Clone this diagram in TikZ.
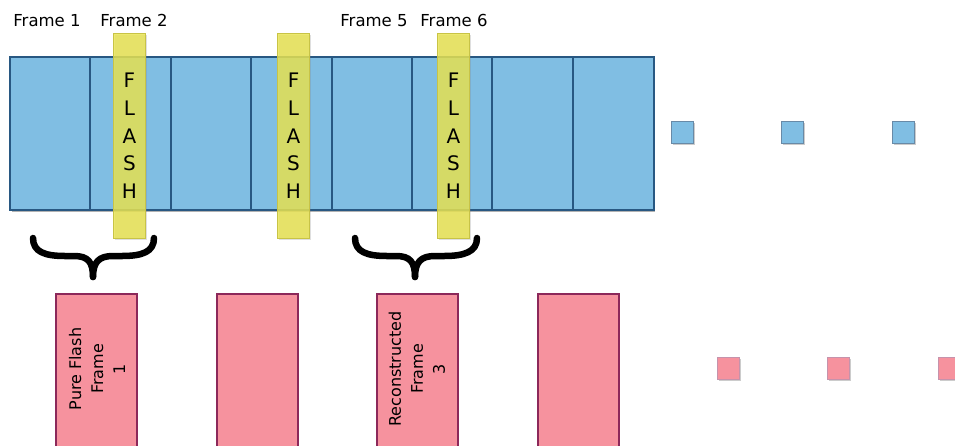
\documentclass[tikz,border=0pt]{standalone}
\usepackage{fontspec}
\setmainfont{DejaVu Sans}
\usetikzlibrary{shadows}
\definecolor{bluefill}{RGB}{128,190,227}
\definecolor{blueline}{RGB}{40,88,130}
\definecolor{pinkfill}{RGB}{246,146,158}
\definecolor{pinkline}{RGB}{140,40,90}
\definecolor{yelfill}{RGB}{232,228,80}
\definecolor{yelline}{RGB}{200,195,70}
\tikzset{
  cell/.style={fill=bluefill, minimum width=80.4pt, minimum height=153pt, inner sep=0pt, anchor=north west},
  divider/.style={draw=blueline, line width=2pt},
  flashbar/.style={draw=yelline, line width=1pt, fill=yelfill, fill opacity=0.82, text opacity=1, minimum width=32pt, minimum height=205pt, inner sep=0pt, anchor=north west, align=center, font=\fontsize{20}{27.7}\selectfont, drop shadow={opacity=0.25, shadow xshift=1pt, shadow yshift=-1pt}},
  outbox/.style={draw=pinkline, line width=1.5pt, fill=pinkfill, minimum width=81pt, minimum height=153pt, inner sep=0pt, anchor=north west, drop shadow={opacity=0.3, shadow xshift=1.5pt, shadow yshift=-1.5pt}},
  boxtext/.style={rotate=90, align=center, font=\fontsize{16}{22}\selectfont, inner sep=0pt},
  flabel/.style={font=\fontsize{16.5}{19}\selectfont, anchor=base, inner sep=0pt},
  bsq/.style={draw=blueline!70, line width=0.6pt, fill=bluefill, minimum size=22pt, inner sep=0pt, anchor=north west, drop shadow={opacity=0.4, shadow xshift=1.5pt, shadow yshift=-1.5pt}},
  psq/.style={draw=pinkline!50, line width=0.6pt, fill=pinkfill, minimum size=22pt, inner sep=0pt, anchor=north west, drop shadow={opacity=0.4, shadow xshift=1.5pt, shadow yshift=-1.5pt}},
  bracepath/.style={line width=6.5pt, line cap=round, line join=round}
}
\begin{document}
\begin{tikzpicture}[x=1pt, y=-1pt]
\useasboundingbox (0,0) rectangle (955,445);
% blue strip shadow
\fill[black, opacity=0.3] (12,59) rectangle (655,212);
% blue strip
\foreach \i in {0,...,7} {
  \node[cell] (c\i) at ({10+80.4*\i},57) {};
}
\foreach \i in {1,...,7} {
  \draw[divider] (c\i.north west) -- (c\i.south west);
}
\draw[divider] (c0.north west) rectangle (c7.south east);
% flash bars
\node[flashbar] (f1) at (113,33) {F\\L\\A\\S\\H};
\node[flashbar] (f2) at (277,33) {F\\L\\A\\S\\H};
\node[flashbar] (f3) at (437,33) {F\\L\\A\\S\\H};
% frame labels
\node[flabel] (l1) at (47,26) {Frame 1};
\node[flabel] (l2) at (134,26) {Frame 2};
\node[flabel] (l5) at (374,26) {Frame 5};
\node[flabel] (l6) at (454,26) {Frame 6};
% braces
\draw[bracepath] (33,238) .. controls (33,252) and (45,256) .. (65,256) -- (74,256) .. controls (88,256) and (93,262) .. (93,277);
\draw[bracepath] (93,277) .. controls (93,262) and (99,256) .. (113,256) -- (122,256) .. controls (142,256) and (154,252) .. (154,238);
\draw[bracepath] (355,238) .. controls (355,252) and (367,256) .. (387,256) -- (396,256) .. controls (410,256) and (415,262) .. (415,277);
\draw[bracepath] (415,277) .. controls (415,262) and (421,256) .. (435,256) -- (444,256) .. controls (464,256) and (477,252) .. (477,238);
% output boxes
\node[outbox] (o1) at (55,293) {};
\node[outbox] (o2) at (216,293) {};
\node[outbox] (o3) at (376,293) {};
\node[outbox] (o4) at (537,293) {};
\node[boxtext] (t1) at (97,369) {Pure Flash\\Frame\\1};
\node[boxtext] (t3) at (417,369) {Reconstructed\\Frame\\3};
% continuation squares
\node[bsq] (b1) at (671,121) {};
\node[bsq] (b2) at (781,121) {};
\node[bsq] (b3) at (892,121) {};
\node[psq] (p1) at (717,357) {};
\node[psq] (p2) at (827,357) {};
\node[psq] (p3) at (938,357) {};
\end{tikzpicture}
\end{document}
